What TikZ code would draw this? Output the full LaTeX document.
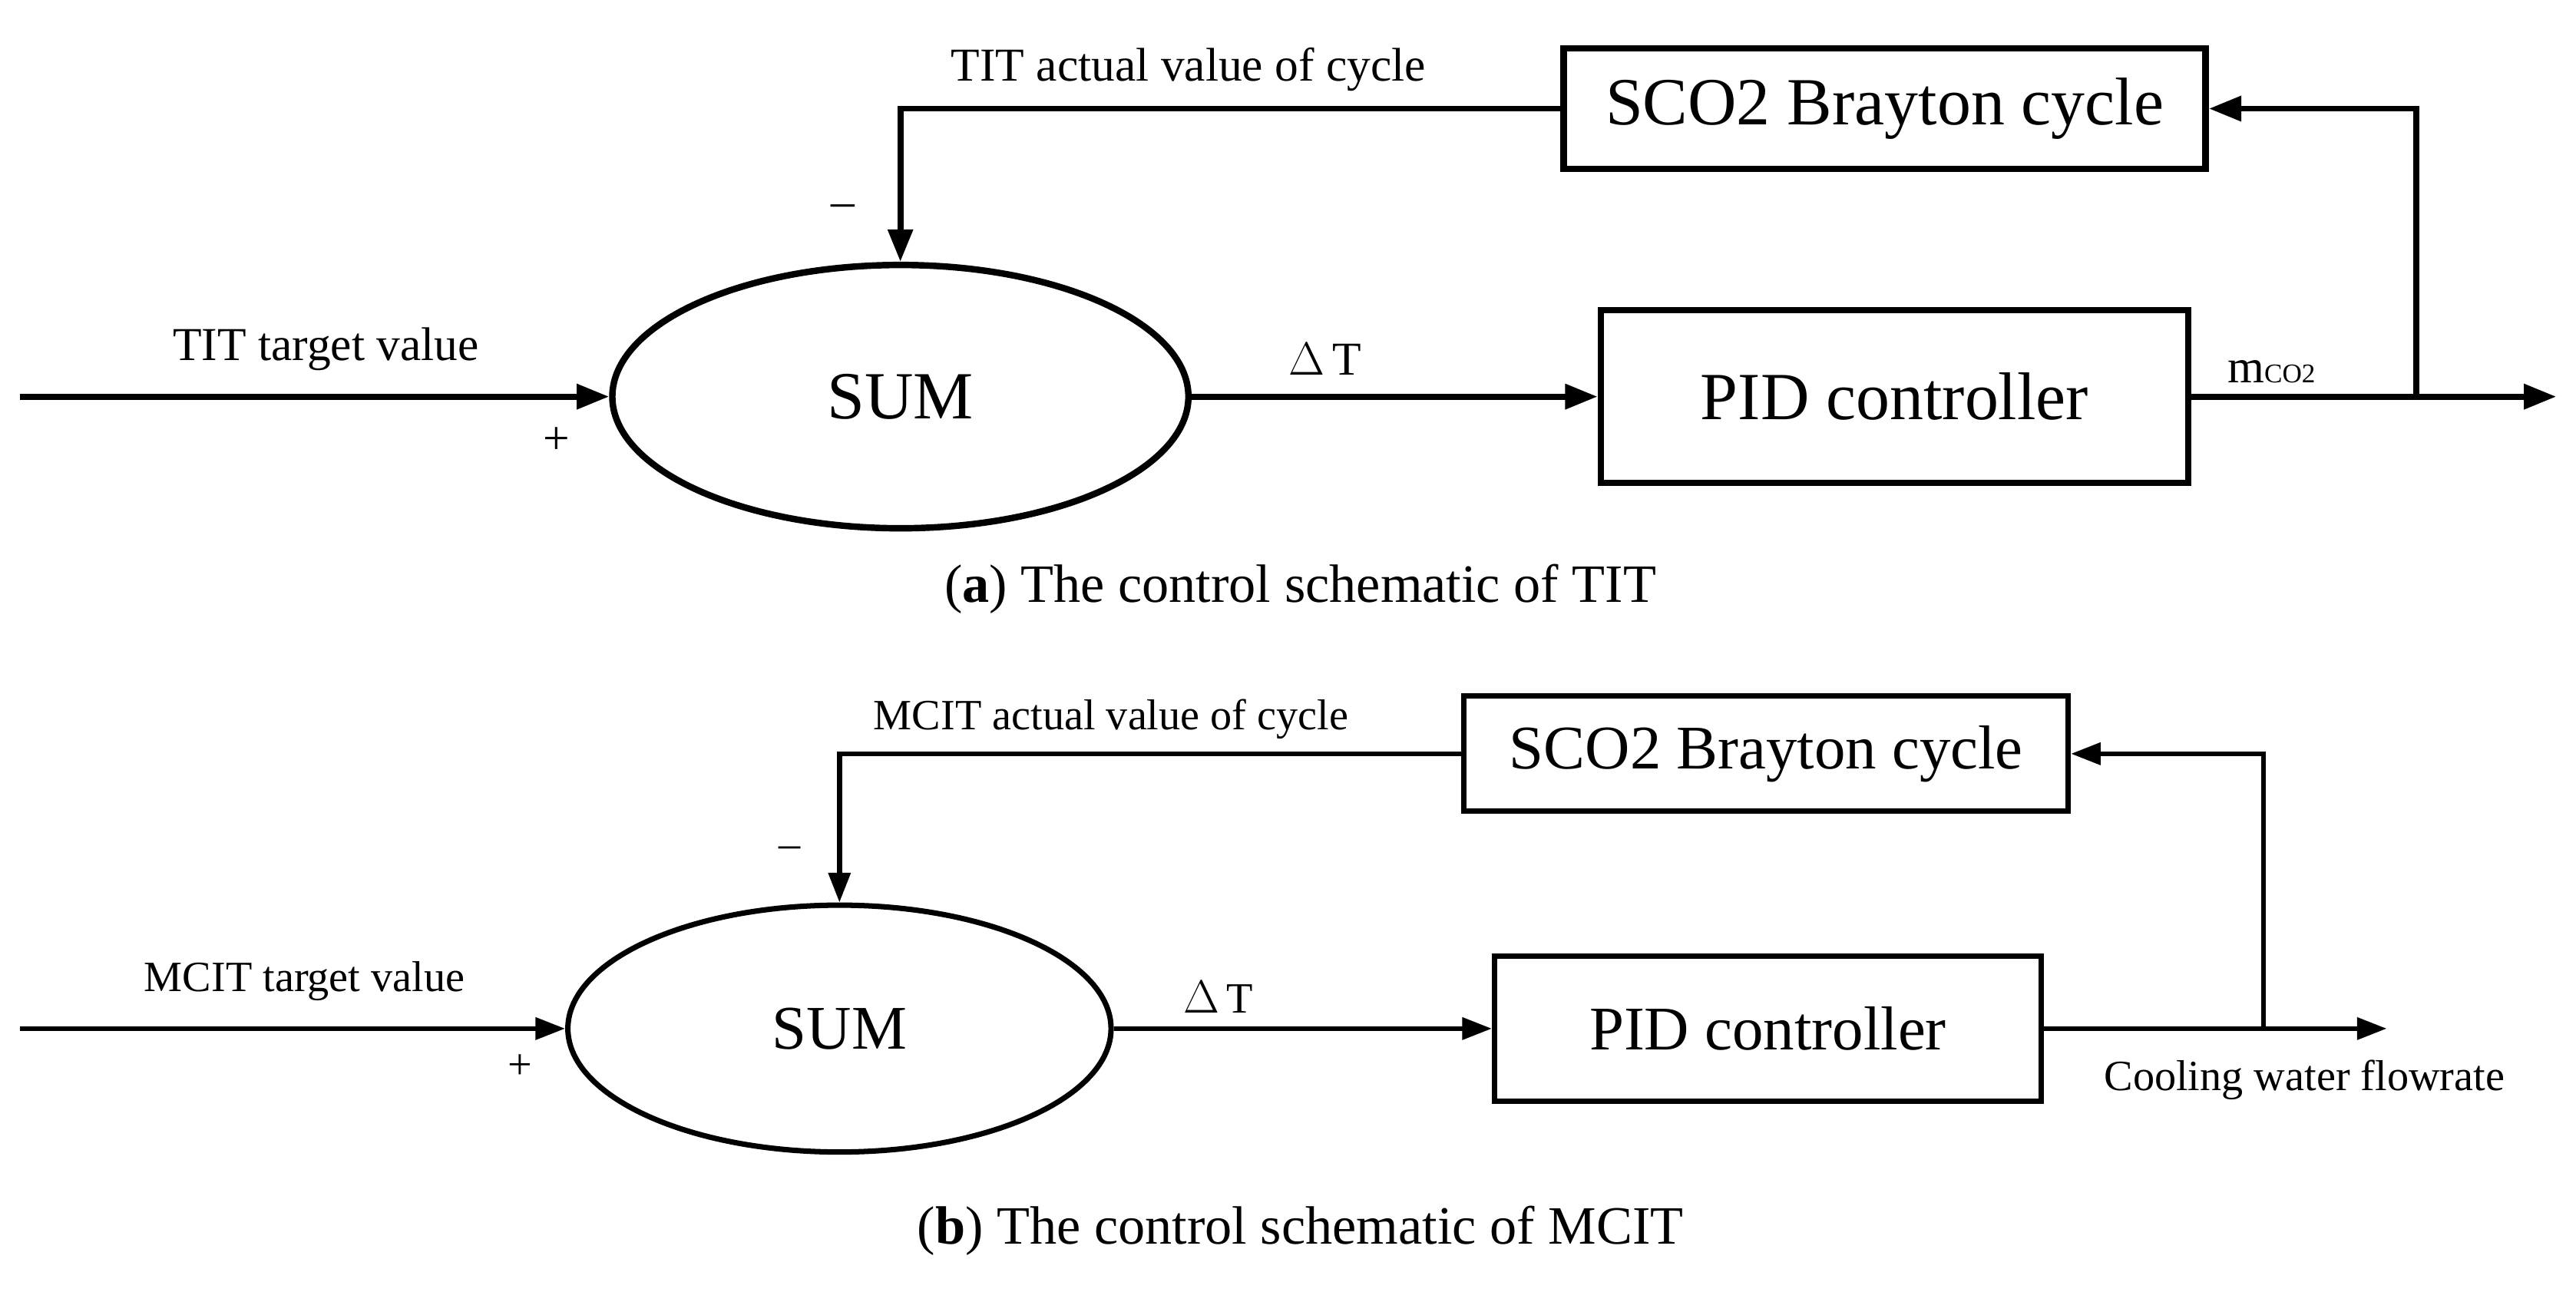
\documentclass[tikz,border=0pt]{standalone}
\usepackage{fontspec}
\setmainfont{Liberation Serif}
\usetikzlibrary{shapes.geometric,arrows.meta}
\begin{document}
\begin{tikzpicture}[x=0.02144cm,y=-0.02144cm,
 blk/.style={draw,line width=2.4pt,minimum height=1.5cm,font=\fontsize{25}{28}\selectfont},
 sum/.style={draw,ellipse,line width=2.4pt,font=\fontsize{25}{28}\selectfont},
 ln/.style={line width=2.2pt,-{Triangle[length=12pt,width=9pt]}},
 ln2/.style={line width=1.8pt,-{Triangle[length=11pt,width=8pt]}},
 lab/.style={font=\fontsize{17.5}{20}\selectfont},
 lab2/.style={font=\fontsize{16}{19}\selectfont},
 capt/.style={font=\fontsize{20}{24}\selectfont}]
\useasboundingbox (0,0) rectangle (1565,785);
% (a)
\node[blk,minimum width=390*0.02144cm,minimum height=73*0.02144cm] (s1) at (1145,66) {SCO2 Brayton cycle};
\node[sum,minimum width=350*0.02144cm,minimum height=160*0.02144cm] (e1) at (547,241) {SUM};
\node[blk,minimum width=357*0.02144cm,minimum height=105*0.02144cm] (p1) at (1151,241) {PID controller};
\coordinate (i1) at (12,241);
\coordinate (o1) at (1553,241);
\coordinate (b1) at (1468,241);
\draw[ln] (i1) -- (e1.west);
\draw[ln] (e1.east) -- (p1.west);
\draw[ln] (p1.east) -- (o1);
\draw[ln] (b1) |- (s1.east);
\draw[ln] (s1.west) -| (e1.north);
\node[lab] (t1) at (198,212) {TIT target value};
\node[lab] (pl1) at (338,268) {+};
\node[lab] (mi1) at (512,128) {\textendash};
\node[lab] (a1) at (722,42) {TIT actual value of cycle};
\node[lab] (d1) at (805,218) {$\Delta$\,T};
\node[lab] (m1) at (1380,226) {m{\fontsize{10}{10}\selectfont CO2}};
\node[capt] (c1) at (790,358) {(\textbf{a}) The control schematic of TIT};
% (b)
\node[blk,minimum width=367*0.02144cm,minimum height=70*0.02144cm,line width=2pt,font=\fontsize{23}{26}\selectfont] (s2) at (1073,458) {SCO2 Brayton cycle};
\node[sum,minimum width=330*0.02144cm,minimum height=150*0.02144cm,line width=2pt,font=\fontsize{23}{26}\selectfont] (e2) at (510,625) {SUM};
\node[blk,minimum width=332*0.02144cm,minimum height=88*0.02144cm,line width=2pt,font=\fontsize{23}{26}\selectfont] (p2) at (1074,625) {PID controller};
\coordinate (i2) at (12,625);
\coordinate (o2) at (1450,625);
\coordinate (b2) at (1375,625);
\draw[ln2] (i2) -- (e2.west);
\draw[ln2] (e2.east) -- (p2.west);
\draw[ln2] (p2.east) -- (o2);
\draw[ln2] (b2) |- (s2.east);
\draw[ln2] (s2.west) -| (e2.north);
\node[lab2] (t2) at (185,596) {MCIT target value};
\node[lab2] (pl2) at (316,648) {+};
\node[lab2] (mi2) at (480,518) {\textendash};
\node[lab2] (a2) at (675,437) {MCIT actual value of cycle};
\node[lab2] (d2) at (740,606) {$\Delta$\,T};
\node[lab2] (w2) at (1400,656) {Cooling water flowrate};
\node[capt] (c2) at (790,748) {(\textbf{b}) The control schematic of MCIT};
\end{tikzpicture}
\end{document}
